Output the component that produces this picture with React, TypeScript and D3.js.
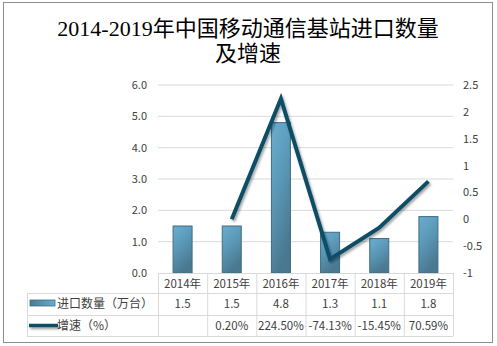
import React from "react";
import * as d3 from "d3";

const categories = ["2014年", "2015年", "2016年", "2017年", "2018年", "2019年"];
const quantity = [1.5, 1.5, 4.8, 1.3, 1.1, 1.8];
const growth: (number | null)[] = [null, 0.002, 2.245, -0.7413, -0.1545, 0.7059];
const quantityLabels = ["1.5", "1.5", "4.8", "1.3", "1.1", "1.8"];
const growthLabels = ["", "0.20%", "224.50%", "-74.13%", "-15.45%", "70.59%"];
const leftTicks = [0, 1, 2, 3, 4, 5, 6];
const rightTicks = [-1, -0.5, 0, 0.5, 1, 1.5, 2, 2.5];
const seriesNames = ["进口数量（万台）", "增速（%）"];
const titleLines = ["2014-2019年中国移动通信基站进口数量", "及增速"];

const W = 497;
const H = 346;
const plotL = 158;
const plotR = 453;
const plotT = 85;
const plotB = 273;
const tableL = 27;
const rowY = [273, 293, 315, 336];

export default function App() {
  const x = d3.scaleBand<string>().domain(categories).range([plotL, plotR]).paddingInner(0).paddingOuter(0);
  const yL = d3.scaleLinear().domain([0, 6]).range([plotB, plotT]);
  const yR = d3.scaleLinear().domain([-1, 2.5]).range([plotB, plotT]);
  const barW = 19;
  const txt = "#404040";
  const grid = "#d9d9d9";
  const font = "'Noto Sans CJK SC', 'Noto Sans', sans-serif";

  const linePts = categories
    .map((c, i) => ({ c, v: growth[i] }))
    .filter((d) => d.v !== null) as { c: string; v: number }[];
  const line = d3
    .line<{ c: string; v: number }>()
    .x((d) => (x(d.c) as number) + x.bandwidth() / 2)
    .y((d) => yR(d.v));

  return (
    <svg width={W} height={H} style={{ position: "absolute", left: 0, top: 0 }}>
      <defs>
        <linearGradient id="barGrad" x1="0" y1="0" x2="0.4" y2="1">
          <stop offset="0" stopColor="#6aaed0" />
          <stop offset="0.5" stopColor="#5a97b6" />
          <stop offset="1" stopColor="#4a7890" />
        </linearGradient>
        <linearGradient id="legGrad" x1="0" y1="0" x2="1" y2="0">
          <stop offset="0" stopColor="#4a7890" />
          <stop offset="1" stopColor="#6aaed0" />
        </linearGradient>
        <filter id="shadow" filterUnits="userSpaceOnUse" x="0" y="0" width={W} height={H}>
          <feDropShadow dx="1.5" dy="2" stdDeviation="1.2" floodColor="#000" floodOpacity="0.35" />
        </filter>
      </defs>
      <rect x={0} y={0} width={W} height={H} fill="#fff" />
      <rect x={3.5} y={2.5} width={489} height={340} fill="none" stroke="#8c8c8c" strokeWidth={1} />

      {titleLines.map((t, i) => (
        <text
          key={i}
          x={248}
          y={36 + i * 25}
          textAnchor="middle"
          fontSize={22}
          fontFamily="'Liberation Serif', 'Noto Sans CJK SC', serif"
          fill="#000"
        >
          {t}
        </text>
      ))}

      {leftTicks.map((t) => (
        <g key={"l" + t}>
          {t > 0 && <line x1={plotL} x2={plotR} y1={yL(t)} y2={yL(t)} stroke={grid} strokeWidth={1} />}
          <text x={147} y={yL(t) + 4} textAnchor="end" fontSize={11} fontFamily={font} fill={txt}>
            {t.toFixed(1)}
          </text>
        </g>
      ))}
      {rightTicks.map((t) => (
        <text key={"r" + t} x={463} y={yR(t) + 4} textAnchor="start" fontSize={11} fontFamily={font} fill={txt}>
          {t}
        </text>
      ))}

      {categories.map((c, i) => (
        <rect
          key={"b" + c}
          x={(x(c) as number) + x.bandwidth() / 2 - barW / 2}
          y={yL(quantity[i])}
          width={barW}
          height={plotB - yL(quantity[i])}
          fill="url(#barGrad)"
          stroke="#3f6c82"
          strokeWidth={1}
        />
      ))}

      <path d={line(linePts) || ""} fill="none" stroke="#0e4e66" strokeWidth={4} strokeLinejoin="miter" filter="url(#shadow)" />

      {/* table */}
      <g stroke={grid} strokeWidth={1} fill="none">
        <line x1={plotL} x2={plotR} y1={rowY[0] + 0.5} y2={rowY[0] + 0.5} />
        {rowY.slice(1).map((y) => (
          <line key={"h" + y} x1={tableL} x2={plotR} y1={y + 0.5} y2={y + 0.5} />
        ))}
        <line x1={tableL + 0.5} x2={tableL + 0.5} y1={rowY[1]} y2={rowY[3]} />
        {categories.map((c) => (
          <line key={"v" + c} x1={(x(c) as number) + 0.5} x2={(x(c) as number) + 0.5} y1={rowY[0]} y2={rowY[3]} />
        ))}
        <line x1={plotR + 0.5} x2={plotR + 0.5} y1={rowY[0]} y2={rowY[3]} />
      </g>
      {categories.map((c, i) => {
        const cx = (x(c) as number) + x.bandwidth() / 2;
        return (
          <g key={"t" + c} fontSize={11.5} fontFamily={font} fill={txt} textAnchor="middle">
            <text x={cx} y={rowY[0] + 15}>{c}</text>
            <text x={cx} y={rowY[1] + 15}>{quantityLabels[i]}</text>
            <text x={cx} y={rowY[2] + 15}>{growthLabels[i]}</text>
          </g>
        );
      })}
      <rect x={30} y={300} width={25} height={6} fill="url(#legGrad)" stroke="#3f6c82" strokeWidth={0.8} />
      <line x1={29} x2={58} y1={325.5} y2={325.5} stroke="#0e4e66" strokeWidth={3.5} filter="url(#shadow)" />
      <text x={57} y={rowY[1] + 15} fontSize={12} fontFamily={font} fill={txt}>{seriesNames[0]}</text>
      <text x={57} y={rowY[2] + 15} fontSize={12} fontFamily={font} fill={txt}>{seriesNames[1]}</text>
    </svg>
  );
}
